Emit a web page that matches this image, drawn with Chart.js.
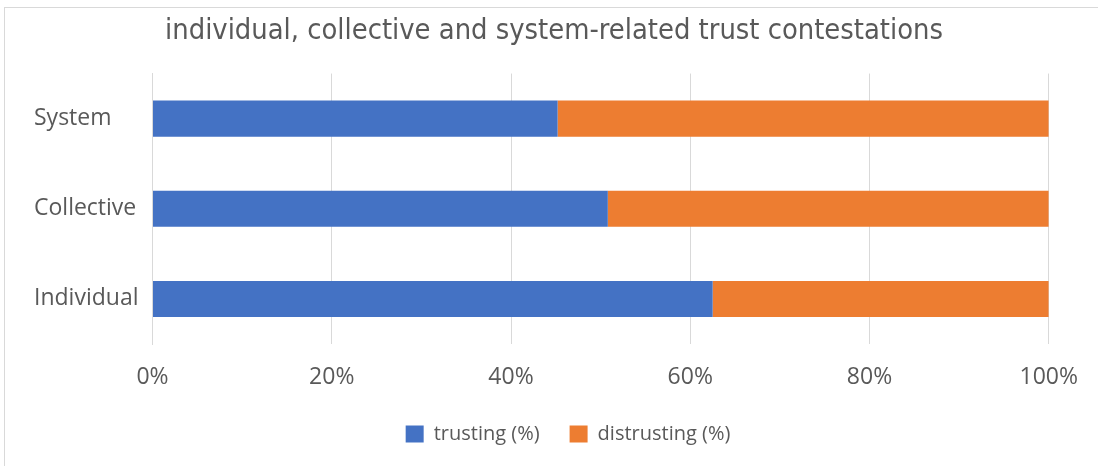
<!DOCTYPE html>
<html>
<head>
<meta charset="utf-8">
<script src="https://cdn.jsdelivr.net/npm/chart.js@4.4.1/dist/chart.umd.min.js"></script>
<style>
  html, body { margin: 0; padding: 0; background: #fff; }
  #wrap { position: relative; width: 1098px; height: 466px; }
  #frame { position: absolute; left: 4px; top: 7px; right: -2px; bottom: -2px; border: 1px solid #d9d9d9; pointer-events: none; }
</style>
</head>
<body>
<div id="wrap">
  <canvas id="chartTrust" width="1098" height="466"></canvas>
  <div id="frame"></div>
</div>
<script>
const categorias = ['System', 'Collective', 'Individual'];
const confianza = [45.2, 50.8, 62.5];
const desconfianza = [54.8, 49.2, 37.5];
const ticksX = ['0%', '20%', '40%', '60%', '80%', '100%'];

const gris = '#595959';
const fuente = '"Open Sans", "Noto Sans", sans-serif';

// corre título y leyenda un poco a la derecha, sin tocar el área del gráfico
const desplazar = {
    id: 'desplazar',
    afterLayout(chart) {
        chart.titleBlock.left += 11; chart.titleBlock.right += 11;
        chart.legend.left += 25; chart.legend.right += 25;
    }
};

const ctx = document.getElementById('chartTrust').getContext('2d');
new Chart(ctx, {
    type: 'bar',
    data: {
        labels: categorias,
        datasets: [
            { label: 'trusting (%)', data: confianza, backgroundColor: '#4472C4', borderWidth: 0 },
            { label: 'distrusting (%)', data: desconfianza, backgroundColor: '#ED7D31', borderWidth: 0 }
        ]
    },
    options: {
        indexAxis: 'y',
        responsive: false,
        animation: false,
        categoryPercentage: 0.8,
        barPercentage: 0.5,
        layout: { padding: { left: 34, right: 46, top: 0, bottom: 12 } },
        scales: {
            x: {
                stacked: true,
                min: 0,
                max: 100,
                grid: { color: '#d9d9d9', drawTicks: false },
                border: { display: false },
                ticks: {
                    stepSize: 20,
                    padding: 20,
                    color: gris,
                    font: { family: fuente, size: 23 },
                    callback: (v, i) => ticksX[i]
                },
                afterFit: s => { s.height = 50; }
            },
            y: {
                stacked: true,
                grid: { display: false, drawTicks: false },
                border: { display: true, color: '#d9d9d9' },
                ticks: {
                    crossAlign: 'far',
                    color: gris,
                    font: { family: fuente, size: 23 }
                },
                afterFit: s => { s.width = 118.5; }
            }
        },
        plugins: {
            title: {
                display: true,
                text: 'individual, collective and system-related trust contestations',
                color: gris,
                font: { family: '"Liberation Sans Narrow", "DejaVu Sans Condensed", sans-serif', size: 28.8, weight: 'normal' },
                padding: { top: 14, bottom: 25 }
            },
            legend: {
                position: 'bottom',
                labels: {
                    color: gris,
                    font: { family: fuente, size: 20 },
                    boxWidth: 18,
                    boxHeight: 17,
                    padding: 30
                }
            },
            tooltip: { enabled: false }
        }
    },
    plugins: [desplazar]
});
</script>
</body>
</html>
